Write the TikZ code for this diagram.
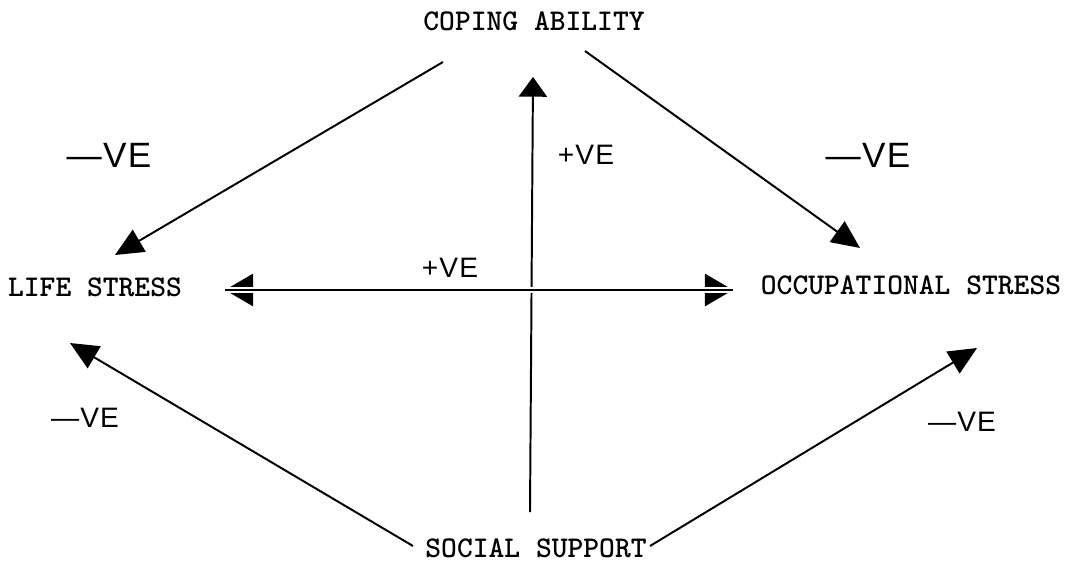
\documentclass[tikz,border=0pt]{standalone}
\usepackage{fontspec}
\usetikzlibrary{arrows.meta,calc}
\newfontfamily\handfont[LetterSpace=4]{Liberation Sans}

\begin{document}
\begin{tikzpicture}[x=0.025cm, y=-0.025cm,
  factor/.style={font=\ttfamily\bfseries\fontsize{21.4}{24}\selectfont, inner sep=0pt},
  sign/.style={font=\handfont\fontsize{20}{22}\selectfont, inner sep=0pt},
  bigsign/.style={font=\handfont\fontsize{25}{28}\selectfont, inner sep=0pt},
  link/.style={line width=1.4pt, -{Triangle[length=20pt, width=18pt]}}]
  \useasboundingbox (0,0) rectangle (1069,564);
  % Factors
  \node[factor] (coping) at (534,21)  {COPING ABILITY};
  \node[factor] (life)   at (95,287)  {LIFE STRESS};
  \node[factor] (occ)    at (911,285) {OCCUPATIONAL STRESS};
  \node[factor] (social) at (536,548) {SOCIAL SUPPORT};
  % Support to coping (drawn first, the two-way link cuts it)
  \draw[link, -{Triangle[length=14pt, width=20pt]}]
    ($(social)+(-6,-36)$) -- ($(coping)+(-1,56)$);
  % Two-way link between the stresses
  \coordinate (hl) at ($(life)+(130,3)$);
  \coordinate (hr) at ($(occ)+(-178,5)$);
  \draw[line width=1.4pt, {Triangle[length=20pt, width=23pt]}-{Triangle[length=20pt, width=23pt]}]
    (hl) -- (hr);
  \draw[white, line width=4.2pt] (hl) -- (hr);
  \draw[line width=1.4pt] (hl) -- (hr);
  % Diagonal links
  \draw[link] ($(coping)+(-91,41)$) -- ($(life)+(20,-32)$);
  \draw[link] ($(coping)+(51,30)$)  -- ($(occ)+(-51,-37)$);
  \draw[link] ($(social)+(-123,-2)$) -- ($(life)+(-25,56)$);
  \draw[link] ($(social)+(114,-2)$)  -- ($(occ)+(66,63)$);
  % Signs
  \node[bigsign] (s1) at (109,155) {—VE};
  \node[bigsign] (s2) at (868,155) {—VE};
  \node[sign]    (s3) at (586,155) {+VE};
  \node[sign]    (s4) at (450,268) {+VE};
  \node[sign]    (s5) at (85,418)  {—VE};
  \node[sign]    (s6) at (962,422) {—VE};
\end{tikzpicture}
\end{document}
